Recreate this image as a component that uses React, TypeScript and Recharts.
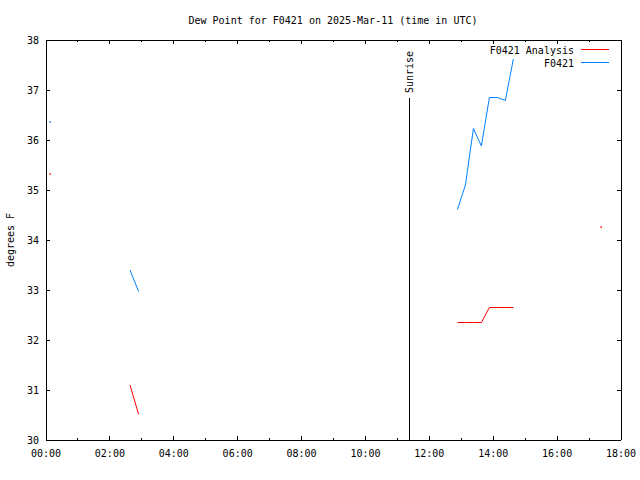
import React from 'react';
import { LineChart, Line, XAxis, YAxis, ReferenceLine, Legend } from 'recharts';

// dew point, hours UTC
const hours = [0.13, 2.63, 2.9, 12.88, 13.13, 13.38, 13.63, 13.88, 14.13, 14.38, 14.63, 17.38];
const analysis = [35.32, 31.1, 30.51, 32.35, 32.35, 32.35, 32.35, 32.65, 32.65, 32.65, 32.65, 34.26];
const observed = [36.36, 33.4, 32.97, 34.61, 35.1, 36.23, 35.88, 36.85, 36.85, 36.79, 37.62, null];

const xTicks = [0, 1, 2, 3, 4, 5, 6, 7, 8, 9, 10, 11, 12, 13, 14, 15, 16, 17, 18];
const yTicks = [30, 31, 32, 33, 34, 35, 36, 37, 38];

const sunriseHour = 11.37;
const sunriseTop = 36.84;

const FONT = '"DejaVu Sans Mono", monospace';
const RED = '#ff0000';
const BLUE = '#0080ff';

type Pt = { t: number; v: number };

// break a series into runs wherever samples are missing
function runs(values: (number | null)[]): Pt[][] {
  const out: Pt[][] = [];
  let cur: Pt[] = [];
  hours.forEach((t, i) => {
    const v = values[i];
    const prev = cur[cur.length - 1];
    if (v == null || (prev && t - prev.t > 0.5)) {
      if (cur.length) out.push(cur);
      cur = [];
    }
    if (v != null) cur.push({ t, v });
  });
  if (cur.length) out.push(cur);
  return out;
}

const hhmm = (h: number) => `${String(h).padStart(2, '0')}:00`;

const BottomTick = (props: any) => {
  const { x, y, payload } = props;
  const major = payload.value % 2 === 0;
  return (
    <g>
      <line x1={x} x2={x} y1={y} y2={y - (major ? 4 : 2)} stroke="#000" shapeRendering="crispEdges" />
      {major && (
        <text x={x} y={y + 17} textAnchor="middle" fontFamily={FONT} fontSize={10} fill="#000">
          {hhmm(payload.value)}
        </text>
      )}
    </g>
  );
};

const TopTick = (props: any) => {
  const { x, y, payload } = props;
  const major = payload.value % 2 === 0;
  return <line x1={x} x2={x} y1={y} y2={y + (major ? 4 : 2)} stroke="#000" shapeRendering="crispEdges" />;
};

const LeftTick = (props: any) => {
  const { x, y, payload } = props;
  return (
    <g>
      <line x1={x} x2={x + 4} y1={y} y2={y} stroke="#000" shapeRendering="crispEdges" />
      <text x={x - 7} y={y + 4} textAnchor="end" fontFamily={FONT} fontSize={10} fill="#000">
        {payload.value}
      </text>
    </g>
  );
};

const RightTick = (props: any) => {
  const { x, y } = props;
  return <line x1={x} x2={x - 4} y1={y} y2={y} stroke="#000" shapeRendering="crispEdges" />;
};

const dotIfAlone = (color: string, alone: boolean) => (p: any) =>
  alone ? <rect key={`d-${p.index}-${p.cx}`} x={p.cx - 0.75} y={p.cy - 0.75} width={1.5} height={1.5} fill={color} /> : <g key={`n-${p.index}`} />;

const LegendBox = () => (
  <svg width={640} height={80}>
    <text x={574} y={54} textAnchor="end" fontFamily={FONT} fontSize={10} fill="#000">F0421 Analysis</text>
    <line x1={581} x2={609} y1={49.5} y2={49.5} stroke={RED} />
    <text x={574} y={67} textAnchor="end" fontFamily={FONT} fontSize={10} fill="#000">F0421</text>
    <line x1={581} x2={609} y1={62.5} y2={62.5} stroke={BLUE} />
  </svg>
);

export default function App() {
  const aRuns = runs(analysis);
  const oRuns = runs(observed);
  return (
    <div style={{ position: 'absolute', left: 0, top: 0, width: 640, height: 480, background: '#fff' }}>
      <LineChart width={640} height={480} margin={{ top: 39, right: 18, bottom: 0, left: 6 }}>
        <XAxis
          xAxisId="b"
          dataKey="t"
          type="number"
          domain={[0, 18]}
          ticks={xTicks}
          allowDataOverflow
          height={40}
          tickSize={0}
          tickMargin={0}
          tickLine={false}
          axisLine={{ stroke: '#000', shapeRendering: 'crispEdges' }}
          tick={<BottomTick />}
          interval={0}
        />
        <XAxis
          xAxisId="t"
          orientation="top"
          dataKey="t"
          type="number"
          domain={[0, 18]}
          ticks={xTicks}
          allowDataOverflow
          height={1}
          tickSize={0}
          tickMargin={0}
          tickLine={false}
          axisLine={{ stroke: '#000', shapeRendering: 'crispEdges' }}
          tick={<TopTick />}
          interval={0}
          label={() => (
            <text x={333} y={24} textAnchor="middle" fontFamily={FONT} fontSize={10} fill="#000">
              Dew Point for F0421 on 2025-Mar-11 (time in UTC)
            </text>
          )}
        />
        <YAxis
          yAxisId="l"
          type="number"
          domain={[30, 38]}
          ticks={yTicks}
          allowDataOverflow
          width={40}
          tickSize={0}
          tickMargin={0}
          tickLine={false}
          axisLine={{ stroke: '#000', shapeRendering: 'crispEdges' }}
          tick={<LeftTick />}
          interval={0}
          label={() => (
            <text
              x={14}
              y={240}
              transform="rotate(-90 14 240)"
              textAnchor="middle"
              fontFamily={FONT}
              fontSize={10}
              fill="#000"
            >
              degrees F
            </text>
          )}
        />
        <YAxis
          yAxisId="r"
          orientation="right"
          type="number"
          domain={[30, 38]}
          ticks={yTicks}
          allowDataOverflow
          width={1}
          tickSize={0}
          tickMargin={0}
          tickLine={false}
          axisLine={{ stroke: '#000', shapeRendering: 'crispEdges' }}
          tick={<RightTick />}
          interval={0}
        />
        <ReferenceLine
          xAxisId="b"
          yAxisId="l"
          segment={[
            { x: sunriseHour, y: 30 },
            { x: sunriseHour, y: sunriseTop },
          ]}
          stroke="#000"
          shapeRendering="crispEdges"
          label={(p: any) => {
            const vb = p.viewBox || {};
            const x0 = (vb.x ?? 409) + 4;
            const y0 = (vb.y ?? 98) - 5;
            return (
              <text
                x={x0}
                y={y0}
                transform={`rotate(-90 ${x0} ${y0})`}
                textAnchor="start"
                fontFamily={FONT}
                fontSize={10}
                fill="#000"
              >
                Sunrise
              </text>
            );
          }}
        />
        {aRuns.map((seg, i) => (
          <Line
            key={`a${i}`}
            xAxisId="b"
            yAxisId="l"
            data={seg}
            dataKey="v"
            stroke={RED}
            strokeWidth={1}
            dot={dotIfAlone(RED, seg.length === 1)}
            activeDot={false}
            isAnimationActive={false}
            legendType="none"
          />
        ))}
        {oRuns.map((seg, i) => (
          <Line
            key={`o${i}`}
            xAxisId="b"
            yAxisId="l"
            data={seg}
            dataKey="v"
            stroke={BLUE}
            strokeWidth={1}
            dot={dotIfAlone(BLUE, seg.length === 1)}
            activeDot={false}
            isAnimationActive={false}
            legendType="none"
          />
        ))}
        <Legend
          layout="vertical"
          align="center"
          verticalAlign="middle"
          wrapperStyle={{ left: 0, top: 0, width: 640, height: 80 }}
          content={() => <LegendBox />}
        />
      </LineChart>
    </div>
  );
}
